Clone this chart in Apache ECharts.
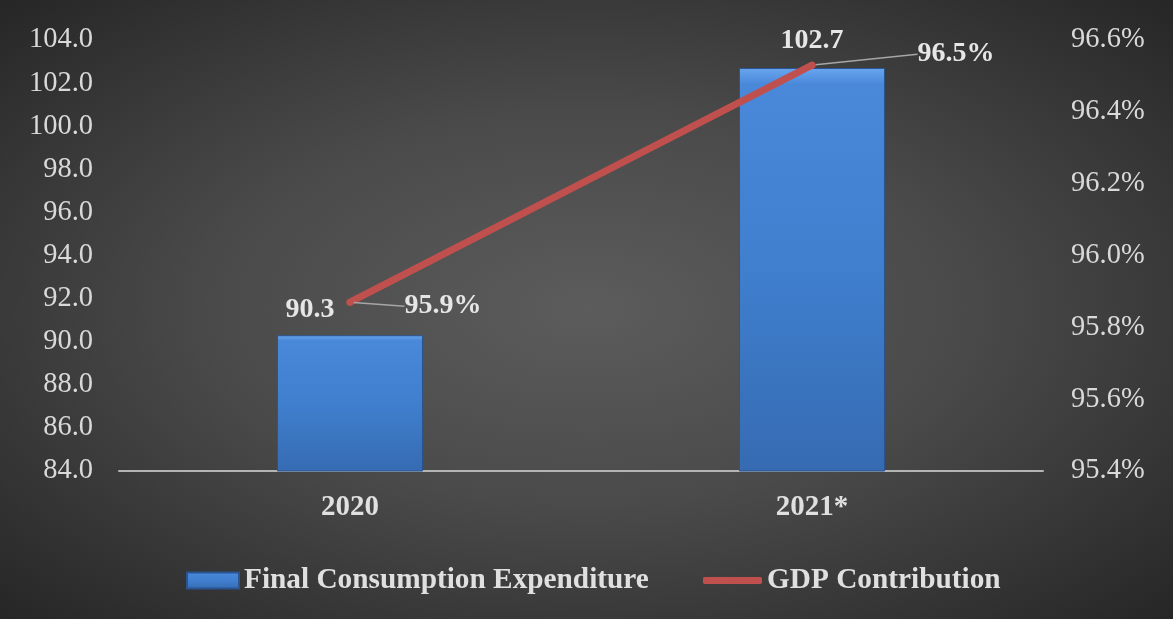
<!DOCTYPE html>
<html><head><meta charset="utf-8">
<script src="https://cdn.jsdelivr.net/npm/echarts@6/dist/echarts.min.js"></script>
<style>
html,body{margin:0;padding:0;}
#c{width:1173px;height:619px;background:radial-gradient(ellipse farthest-corner at 50% 50%, #5c5c5c 0%, #4a4a4a 45%, #262626 100%);}
</style></head>
<body><div id="c"></div>
<script>
const categories = ['2020', '2021*'];
const expenditure = [90.3, 102.7];
const gdpContribution = [95.87, 96.53];
const gdpLabels = ['95.9%', '96.5%'];
const leftTicks = {min: 84, max: 104, interval: 2};
const rightTicks = {min: 95.4, max: 96.6, interval: 0.2};

const FONT = '"Liberation Serif", "Times New Roman", serif';
const legendText = {color: '#e0e0e0', fontFamily: FONT, fontWeight: 'bold', fontSize: 29.3};
const chart = echarts.init(document.getElementById('c'));
chart.setOption({
  animation: false,
  grid: {left: 119, right: 130, top: 40, bottom: 148},
  legend: [
    {
      top: 561, left: 181, itemWidth: 52, itemHeight: 16, itemGap: 5,
      textStyle: legendText,
      data: [{name: 'Final Consumption Expenditure', icon: 'rect'}]
    },
    {
      top: 561, left: 698, itemWidth: 59, itemHeight: 7, itemGap: 5,
      textStyle: legendText,
      data: [{name: 'GDP Contribution', icon: 'roundRect'}]
    }
  ],
  xAxis: {
    type: 'category', data: categories,
    axisLine: {lineStyle: {color: '#b4b4b4', width: 2}},
    axisTick: {show: false},
    axisLabel: {color: '#e0e0e0', fontFamily: FONT, fontWeight: 'bold', fontSize: 29, margin: 22}
  },
  yAxis: [
    {type: 'value', min: leftTicks.min, max: leftTicks.max, interval: leftTicks.interval,
     splitLine: {show: false}, axisLine: {show: false}, axisTick: {show: false},
     axisLabel: {color: '#d9d9d9', fontFamily: FONT, fontSize: 28.5, margin: 26,
       formatter: v => v.toFixed(1)}},
    {type: 'value', min: rightTicks.min, max: rightTicks.max, interval: rightTicks.interval,
     splitLine: {show: false}, axisLine: {show: false}, axisTick: {show: false},
     axisLabel: {color: '#d9d9d9', fontFamily: FONT, fontSize: 28.5, margin: 28,
       formatter: v => v.toFixed(1) + '%'}}
  ],
  series: [
    {
      name: 'Final Consumption Expenditure', type: 'bar', yAxisIndex: 0,
      barWidth: '31.6%',
      data: expenditure.map((v, i) => ({
        value: v,
        label: {offset: i === 0 ? [-40, -6] : [0, -8]}
      })),
      itemStyle: {
        color: {type: 'linear', x: 0, y: 0, x2: 0, y2: 1, colorStops: [
          {offset: 0, color: '#6aa6ee'}, {offset: 0.04, color: '#4a88da'},
          {offset: 0.5, color: '#3f7fce'}, {offset: 1, color: '#366bb2'}]},
        borderColor: '#2a5590', borderWidth: 1
      },
      label: {show: true, position: 'top', distance: 5, color: '#e6e6e6',
        fontFamily: FONT, fontWeight: 'bold', fontSize: 28,
        formatter: p => p.value.toFixed(1)}
    },
    {
      name: 'GDP Contribution', type: 'line', yAxisIndex: 1,
      data: gdpContribution,
      symbol: 'circle', symbolSize: 7,
      lineStyle: {color: '#c0504d', width: 7, cap: 'round'},
      itemStyle: {color: '#c0504d'},
      label: {show: true, position: 'right', distance: 5, color: '#e6e6e6',
        fontFamily: FONT, fontWeight: 'bold', fontSize: 28,
        formatter: p => gdpLabels[p.dataIndex]},
      labelLine: {show: true, lineStyle: {color: '#a6a6a6', width: 1.5}},
      labelLayout: p => p.dataIndex === 0 ? {dx: 46, dy: 4} : {dx: 97, dy: -11}
    }
  ]
});
</script></body></html>
